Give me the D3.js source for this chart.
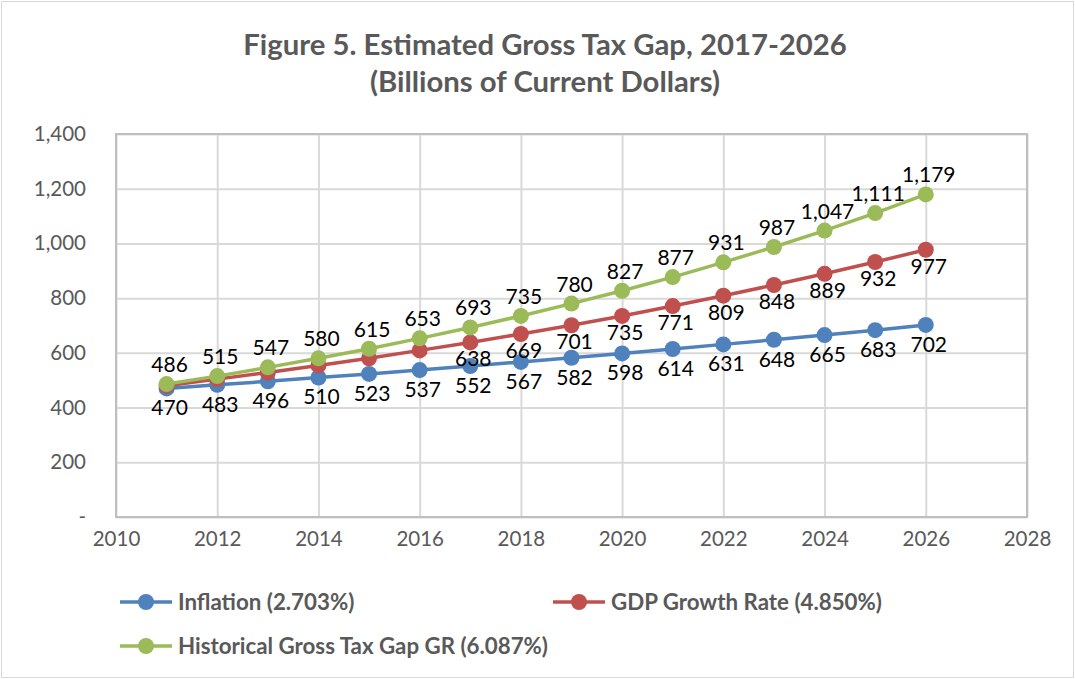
<!DOCTYPE html>
<html>
<head>
<meta charset="utf-8">
<script src="https://cdn.jsdelivr.net/npm/d3@7"></script>
<style>
  body { margin: 0; background: #fff; }
  svg text { font-family: Lato, "Open Sans", sans-serif; }
</style>
</head>
<body>
<svg id="chart"></svg>
<script>
// values
const years = [2011, 2012, 2013, 2014, 2015, 2016, 2017, 2018, 2019, 2020, 2021, 2022, 2023, 2024, 2025, 2026];
const inflation = [470, 483, 496, 510, 523, 537, 552, 567, 582, 598, 614, 631, 648, 665, 683, 702];
const gdp = [480, 504, 528, 554, 580, 609, 638, 669, 701, 735, 771, 809, 848, 889, 932, 977];
const historical = [486, 515, 547, 580, 615, 653, 693, 735, 780, 827, 877, 931, 987, 1047, 1111, 1179];
const gdpLabelFrom = 2017; // earlier GDP labels are not shown
const xTicks = [2010, 2012, 2014, 2016, 2018, 2020, 2022, 2024, 2026, 2028];
const yTicks = [0, 200, 400, 600, 800, 1000, 1200, 1400];
const seriesNames = ['Inflation (2.703%)', 'GDP Growth Rate (4.850%)', 'Historical Gross Tax Gap GR (6.087%)'];
const seriesColors = ['#4f81bd', '#c0504d', '#9bbb59'];

const W = 1075, H = 679;
const margin = {top: 134, right: 48, bottom: 162, left: 116};
const width = W - margin.left - margin.right;
const height = H - margin.top - margin.bottom;

const svg = d3.select('#chart').attr('width', W).attr('height', H);

svg.append('rect')
    .attr('x', 1.5).attr('y', 1.5)
    .attr('width', W - 3).attr('height', H - 3)
    .attr('fill', '#fff')
    .attr('stroke', '#d9d9d9');

// title
const title = svg.append('text')
    .attr('x', 545).attr('y', 55)
    .attr('text-anchor', 'middle')
    .attr('fill', '#595959')
    .style('font-weight', 'bold')
    .style('font-size', '29.3px');
title.append('tspan').attr('x', 545).text('Figure 5. Estimated Gross Tax Gap, 2017-2026');
title.append('tspan').attr('x', 545).attr('dy', 37).text('(Billions of Current Dollars)');

const chart = svg.append('g')
    .attr('transform', `translate(${margin.left},${margin.top})`);

const xScale = d3.scaleLinear().domain([2010, 2028]).range([0, width]);
const yScale = d3.scaleLinear().domain([0, 1400]).range([height, 0]);

const xAxis = d3.axisBottom(xScale)
    .tickValues(xTicks)
    .tickSize(-height)
    .tickPadding(14)
    .tickFormat(d3.format('d'));

const yAxis = d3.axisLeft(yScale)
    .tickValues(yTicks)
    .tickSize(-width)
    .tickPadding(30)
    .tickFormat(d => d === 0 ? '-' : d3.format(',')(d));

chart.append('g')
    .attr('class', 'x-axis')
    .attr('transform', `translate(0,${height})`)
    .call(xAxis)
    .call(g => g.select('.domain').remove())
    .call(g => g.selectAll('line').attr('stroke', '#d9d9d9').attr('stroke-width', 2))
    .call(g => g.selectAll('text').attr('fill', '#595959').style('font-size', '20.5px'));

chart.append('g')
    .attr('class', 'y-axis')
    .call(yAxis)
    .call(g => g.select('.domain').remove())
    .call(g => g.selectAll('line').attr('stroke', '#d9d9d9').attr('stroke-width', 2))
    .call(g => g.selectAll('text').attr('fill', '#595959').style('font-size', '20.5px'));

// plot border
chart.append('rect')
    .attr('width', width).attr('height', height)
    .attr('fill', 'none')
    .attr('stroke', '#bfbfbf')
    .attr('stroke-width', 2);

const series = [
  {name: seriesNames[0], values: inflation, color: seriesColors[0], dy: 27, from: 2011},
  {name: seriesNames[1], values: gdp, color: seriesColors[1], dy: 24, from: gdpLabelFrom},
  {name: seriesNames[2], values: historical, color: seriesColors[2], dy: -12, from: 2011}
];

const line = d3.line()
    .x(d => xScale(d.year))
    .y(d => yScale(d.value));

series.forEach(s => {
  const pts = years.map((y, i) => ({year: y, value: s.values[i]}));
  const g = chart.append('g');
  g.append('path')
      .datum(pts)
      .attr('d', line)
      .attr('fill', 'none')
      .attr('stroke', s.color)
      .attr('stroke-width', 3.5)
      .attr('stroke-linejoin', 'round');
  g.selectAll('circle')
      .data(pts)
      .join('circle')
      .attr('cx', d => xScale(d.year))
      .attr('cy', d => yScale(d.value))
      .attr('r', 8)
      .attr('fill', s.color);
  s.pts = pts;
});

// data labels drawn on top
series.forEach(s => {
  chart.append('g')
    .selectAll('text')
    .data(s.pts.filter(d => d.year >= s.from))
    .join('text')
      .attr('x', d => xScale(d.year) + 3)
      .attr('y', d => yScale(d.value) + s.dy)
      .attr('text-anchor', 'middle')
      .attr('fill', '#000')
      .style('font-size', '21px')
      .text(d => d3.format(',')(d.value));
});

// legend
const legendItems = [
  {x: 120, y: 602, i: 0},
  {x: 553, y: 602, i: 1},
  {x: 120, y: 646, i: 2}
];
const legend = svg.append('g');
legendItems.forEach(it => {
  const g = legend.append('g').attr('transform', `translate(${it.x},${it.y})`);
  g.append('line')
      .attr('x1', 0).attr('x2', 52)
      .attr('stroke', seriesColors[it.i])
      .attr('stroke-width', 3.5);
  g.append('circle')
      .attr('cx', 26).attr('r', 8)
      .attr('fill', seriesColors[it.i]);
  g.append('text')
      .attr('x', 58).attr('y', 8)
      .attr('fill', '#595959')
      .style('font-weight', 'bold')
      .style('font-size', '22.3px')
      .text(seriesNames[it.i]);
});
</script>
</body>
</html>
